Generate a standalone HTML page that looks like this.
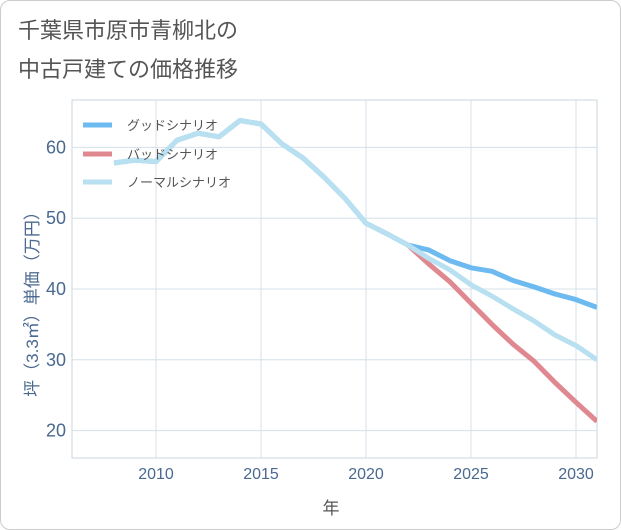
<!DOCTYPE html>
<html><head><meta charset="utf-8"><style>
body{margin:0;background:#fff;}
.wrap{position:relative;width:619px;height:528px;border:1px solid #ccc;border-radius:10px;background:#fff;overflow:hidden;font-family:"Liberation Sans","Noto Sans CJK JP",sans-serif;}
</style></head><body>
<div class="wrap">
<svg width="621" height="530" style="position:absolute;left:-1px;top:-1px" id="chart">
<text x="18" y="38" font-size="22" fill="#555" font-family="Liberation Sans, Noto Sans CJK JP, sans-serif">千葉県市原市青柳北の</text>
<text x="18" y="77" font-size="22" fill="#555" font-family="Liberation Sans, Noto Sans CJK JP, sans-serif">中古戸建ての価格推移</text>
<g id="grid"></g><g id="lines"></g>
<g font-family="Liberation Sans, Noto Sans CJK JP, sans-serif" font-size="13" fill="#555">
<line x1="83" y1="125" x2="112" y2="125" stroke="#6cbaf0" stroke-width="5"/>
<text x="127" y="130">グッドシナリオ</text>
<line x1="83" y1="154" x2="112" y2="154" stroke="#e08890" stroke-width="5"/>
<text x="127" y="159">バッドシナリオ</text>
<line x1="83" y1="182" x2="112" y2="182" stroke="#b8e0f0" stroke-width="5"/>
<text x="127" y="187">ノーマルシナリオ</text>
</g>
<text x="331" y="514" font-size="17" fill="#555" text-anchor="middle" font-family="Liberation Sans, Noto Sans CJK JP, sans-serif">年</text>
<text transform="translate(38,300) rotate(-90)" font-size="17" fill="#4a6890" text-anchor="middle" font-family="Liberation Sans, Noto Sans CJK JP, sans-serif">坪（3.3㎡）単価（万円）</text>
</svg>
</div>
<script>
const years=[2008,2009,2010,2011,2012,2013,2014,2015,2016,2017,2018,2019,2020,2021,2022];
const history=[57.8,58.2,58.0,61.0,62.0,61.5,63.8,63.3,60.5,58.5,55.8,52.8,49.3,47.8,46.2];
const futureYears=[2022,2023,2024,2025,2026,2027,2028,2029,2030,2031];
const good=[46.2,45.5,44.0,43.0,42.5,41.2,40.3,39.3,38.5,37.4];
const bad=[46.2,43.5,41.0,38.0,35.0,32.2,29.8,26.8,24.0,21.3];
const normal=[46.2,44.3,42.7,40.6,39.0,37.2,35.5,33.5,32.0,30.0];
const xTicks=[2010,2015,2020,2025,2030];
const yTicks=[20,30,40,50,60];
const L=72,R=597,T=100,B=458;
const xs=y=>156+(y-2010)*21;
const ys=v=>289-(v-40)*7.08;
const NS="http://www.w3.org/2000/svg";
const grid=document.getElementById('grid'),lines=document.getElementById('lines');
function mk(tag,attrs,parent){const e=document.createElementNS(NS,tag);for(const k in attrs)e.setAttribute(k,attrs[k]);parent.appendChild(e);return e;}
const frame=mk('rect',{x:L,y:T,width:R-L,height:B-T,fill:'none',stroke:'#c8d4de'},grid);


xTicks.forEach(t=>{
 const l=mk('line',{x1:xs(t),x2:xs(t),y1:T,y2:B,stroke:'#d5e0e8'},grid);
 
 
 const tx=mk('text',{x:xs(t),y:479,'font-size':16,fill:'#4a6890','text-anchor':'middle','font-family':'Liberation Sans, sans-serif'},grid);
 tx.textContent=t;
 
 
});
yTicks.forEach(t=>{
 const l=mk('line',{x1:L,x2:R,y1:ys(t),y2:ys(t),stroke:'#d5e0e8'},grid);
 
 
 const tx=mk('text',{x:66,y:ys(t)+6,'font-size':18,fill:'#4a6890','text-anchor':'end','font-family':'Liberation Sans, sans-serif'},grid);
 tx.textContent=t;
 
 
});
function path(xv,yv){return xv.map((x,i)=>(i?'L':'M')+xs(x).toFixed(1)+','+ys(yv[i]).toFixed(1)).join(' ');}
const clip=mk('clipPath',{id:'pc'},lines);mk('rect',{x:L,y:T,width:R-L,height:B-T},clip);
const g=mk('g',{'clip-path':'url(#pc)',fill:'none','stroke-width':5,'stroke-linejoin':'round'},lines);
const pg=mk('path',{d:path(years.concat(futureYears.slice(1)),history.concat(good.slice(1))),stroke:'#6cbaf0'},g);


const pb=mk('path',{d:path(futureYears,bad),stroke:'#e08890'},g);


const pn=mk('path',{d:path(years.concat(futureYears.slice(1)),history.concat(normal.slice(1))),stroke:'#b8e0f0'},g);


</script>
</body></html>
